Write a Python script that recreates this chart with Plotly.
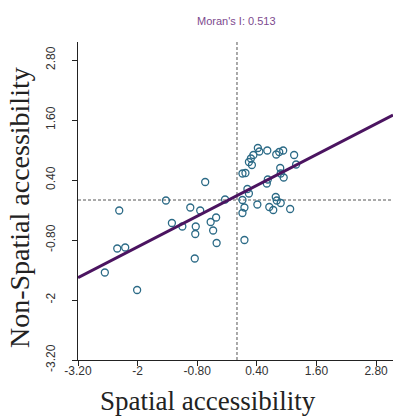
import plotly.graph_objects as go

# Data (standardized values)
spatial = [-2.37, -2.41, -2.25, -2.66, -2.01, -1.43, -0.64, -1.31, -1.10, -0.94,
           -0.74, -0.83, -0.84, -0.85, -0.53, -0.42, -0.48, -0.41, -0.24, 0.11,
           0.17, 0.11, 0.15, 0.11, 0.15, 0.21, 0.24, 0.41, 0.24, 0.30,
           0.33, 0.42, 0.45, 0.61, 0.60, 0.62, 0.65, 0.73, 0.78, 0.80,
           0.88, 0.79, 0.85, 0.93, 0.87, 0.88, 0.94, 1.07, 1.15, 1.19, 0.28]
non_spatial = [-0.21, -0.97, -0.95, -1.45, -1.80, -0.01, 0.36, -0.46, -0.53, -0.15,
               -0.21, -0.53, -0.68, -1.17, -0.44, -0.35, -0.61, -0.86, 0.01, 0.53,
               0.54, 0.00, -0.15, -0.26, -0.80, 0.22, 0.13, -0.09, 0.76, 0.70,
               0.90, 1.04, 0.97, 0.99, 0.33, 0.41, -0.14, -0.20, 0.06, -0.01,
               -0.06, 0.91, 0.96, 0.99, 0.64, 0.53, 0.45, -0.18, 0.90, 0.71, 0.83]
morans_i = 0.513
intercept = 0.09
tick_vals = [-3.2, -2.0, -0.8, 0.4, 1.6, 2.8]
tick_text = ["-3.20", "-2", "-0.80", "0.40", "1.60", "2.80"]
x_range = [-3.2, 3.14]
y_range = [-3.2, 3.16]

line_x = x_range
line_y = [morans_i * v + intercept for v in line_x]

W, H = 393, 419
L, R, T, B = 78, 0, 42, 59

fig = go.Figure()
fig.add_trace(go.Scatter(x=[0, 0], y=y_range, mode="lines",
                         line=dict(color="#555555", width=1, dash="3px,2px"),
                         hoverinfo="skip", showlegend=False))
fig.add_trace(go.Scatter(x=x_range, y=[0, 0], mode="lines",
                         line=dict(color="#555555", width=1, dash="3px,2px"),
                         hoverinfo="skip", showlegend=False))
fig.add_trace(go.Scatter(x=spatial, y=non_spatial, mode="markers",
                         marker=dict(symbol="circle-open", size=7,
                                     color="#2b6a86", line=dict(width=1.3, color="#2b6a86")),
                         showlegend=False))
fig.add_trace(go.Scatter(x=line_x, y=line_y, mode="lines",
                         line=dict(color="#4b1460", width=3),
                         showlegend=False))

serif = "Liberation Serif, Times New Roman, serif"
sans = "Liberation Sans, Arial, sans-serif"

fig.update_layout(
    width=W, height=H,
    margin=dict(l=L, r=R, t=T, b=B),
    paper_bgcolor="white", plot_bgcolor="white",
    xaxis=dict(range=x_range, tickvals=tick_vals, ticktext=tick_text,
               automargin=False, showgrid=False, zeroline=False, showline=True,
               linecolor="#222", linewidth=1.2, ticks="outside", ticklen=5, tickcolor="#222",
               ticklabelstandoff=-6,
               tickfont=dict(family=sans, size=12, color="#333")),
    yaxis=dict(range=y_range, tickvals=tick_vals, ticktext=tick_text, tickangle=-90,
               automargin=False, showgrid=False, zeroline=False, showline=True,
               linecolor="#222", linewidth=1.2, ticks="outside", ticklen=5, tickcolor="#222",
               ticklabelstandoff=12,
               tickfont=dict(family=sans, size=12, color="#333")),
    annotations=[
        dict(text="Moran's I: 0.513", x=0, xref="x", y=1, yref="paper",
             yanchor="middle", yshift=21, showarrow=False,
             font=dict(family=sans, size=11, color="#7d4a8e")),
        dict(text="Spatial accessibility", x=(208 - L) / (W - L - R), xref="paper",
             y=0, yref="paper", yanchor="middle", yshift=-(401 - (H - B)),
             showarrow=False, font=dict(family=serif, size=27, color="#222")),
        dict(text="Non-Spatial accessibility", x=0, xref="paper", xshift=-(L - 19),
             y=0.5, yref="paper", yshift=-7, textangle=-90,
             xanchor="center", yanchor="middle",
             showarrow=False, font=dict(family=serif, size=28, color="#222")),
    ],
)

fig.write_html("out.html", config={"displayModeBar": False},
               post_script="document.body.style.margin='0';document.body.style.overflow='hidden';")
